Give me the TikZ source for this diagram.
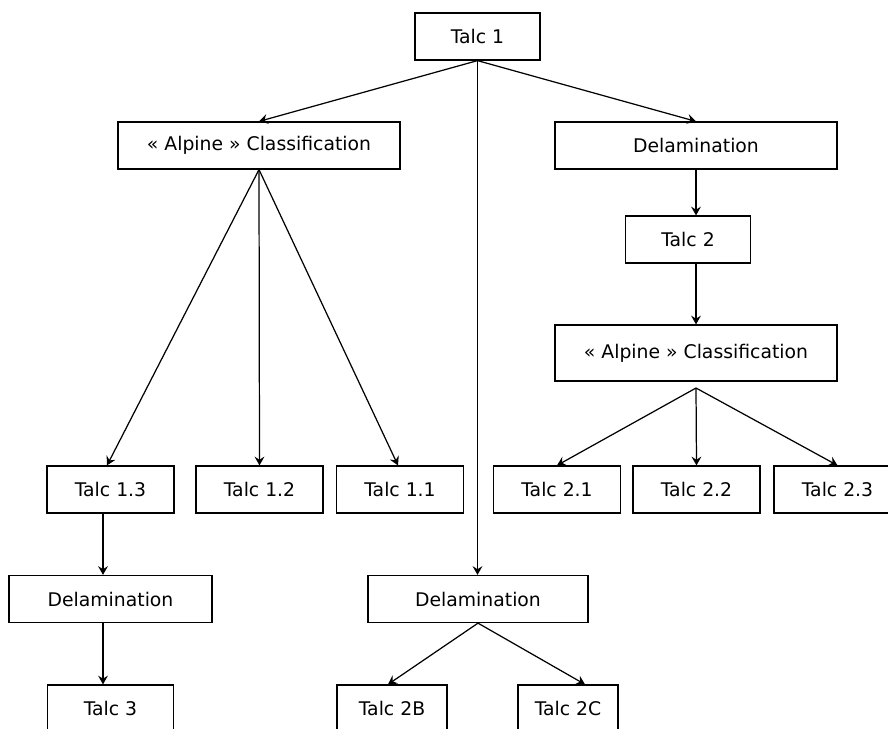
\documentclass[tikz,border=0pt]{standalone}
\usepackage{fontspec}
\setmainfont{DejaVu Sans}
\usetikzlibrary{arrows.meta}

\begin{document}
\begin{tikzpicture}[x=0.02cm,y=-0.02cm,
  box/.style={draw,line width=0.7pt,minimum height=0.94cm,inner sep=0pt,
    font=\fontsize{10.7}{13}\selectfont},
  arr/.style={line width=0.7pt,-{Stealth[length=5pt,width=5.6pt,inset=1.8pt]}}]
  \useasboundingbox (0,0) rectangle (888,728);

  % Top
  \node[box,minimum width=2.5cm] (t1) at (477.5,36.5) {Talc 1};
  \node[box,minimum width=5.64cm] (a1) at (259,145.5) {« Alpine » Classification};
  \node[box,minimum width=5.64cm] (d2) at (696,145.5) {Delamination};

  % Right branch
  \node[box,minimum width=2.5cm] (t2) at (688,239.5) {Talc 2};
  \node[box,minimum width=5.64cm,minimum height=1.12cm] (a2) at (696,353) {« Alpine » Classification};
  \coordinate (a2s) at (696,388);
  \foreach \n/\x in {1/557,2/696.5,3/837.5}
  {
    \node[box,minimum width=2.54cm] (t2\n) at (\x,489.5) {Talc 2.\n};
  }

  % Left branch
  \node[box,minimum width=2.54cm] (t13) at (110.5,489.5) {Talc 1.3};
  \node[box,minimum width=2.54cm] (t12) at (259.5,489.5) {Talc 1.2};
  \node[box,minimum width=2.54cm] (t11) at (400,489.5) {Talc 1.1};
  \node[box,minimum width=4.06cm] (d1) at (110.5,599) {Delamination};
  \node[box,minimum width=2.52cm] (t3) at (110.5,708.5) {Talc 3};

  % Middle branch
  \node[box,minimum width=4.4cm] (d3) at (478,599) {Delamination};
  \node[box,minimum width=2.2cm] (t2b) at (392,708.5) {Talc 2B};
  \node[box,minimum width=2cm] (t2c) at (568,708.5) {Talc 2C};

  % Arrows
  \draw[arr] (t1.south) -- (a1.north);
  \draw[arr] (t1.south) -- (d2.north);
  \draw[arr] (t1.south) -- (t1.south |- d3.north);
  \draw[arr] (a1.south) -- ([xshift=-0.07cm]t13.north);
  \draw[arr] (a1.south) -- (t12.north);
  \draw[arr] (a1.south) -- ([xshift=-0.04cm]t11.north);
  \draw[arr] ([xshift=-0.15cm]t13.south) -- ([xshift=-0.15cm]t13.south |- d1.north);
  \draw[arr] ([xshift=-0.15cm]d1.south) -- ([xshift=-0.15cm]d1.south |- t3.north);
  \draw[arr] (d2.south) -- (d2.south |- t2.north);
  \draw[arr] (a2.north |- t2.south) -- (a2.north);
  \foreach \n in {1,2,3}
  {
    \draw[arr] (a2s) -- (t2\n.north);
  }
  \draw[arr] (d3.south) -- ([xshift=-0.08cm]t2b.north);
  \draw[arr] (d3.south) -- ([xshift=0.34cm]t2c.north);
\end{tikzpicture}
\end{document}
